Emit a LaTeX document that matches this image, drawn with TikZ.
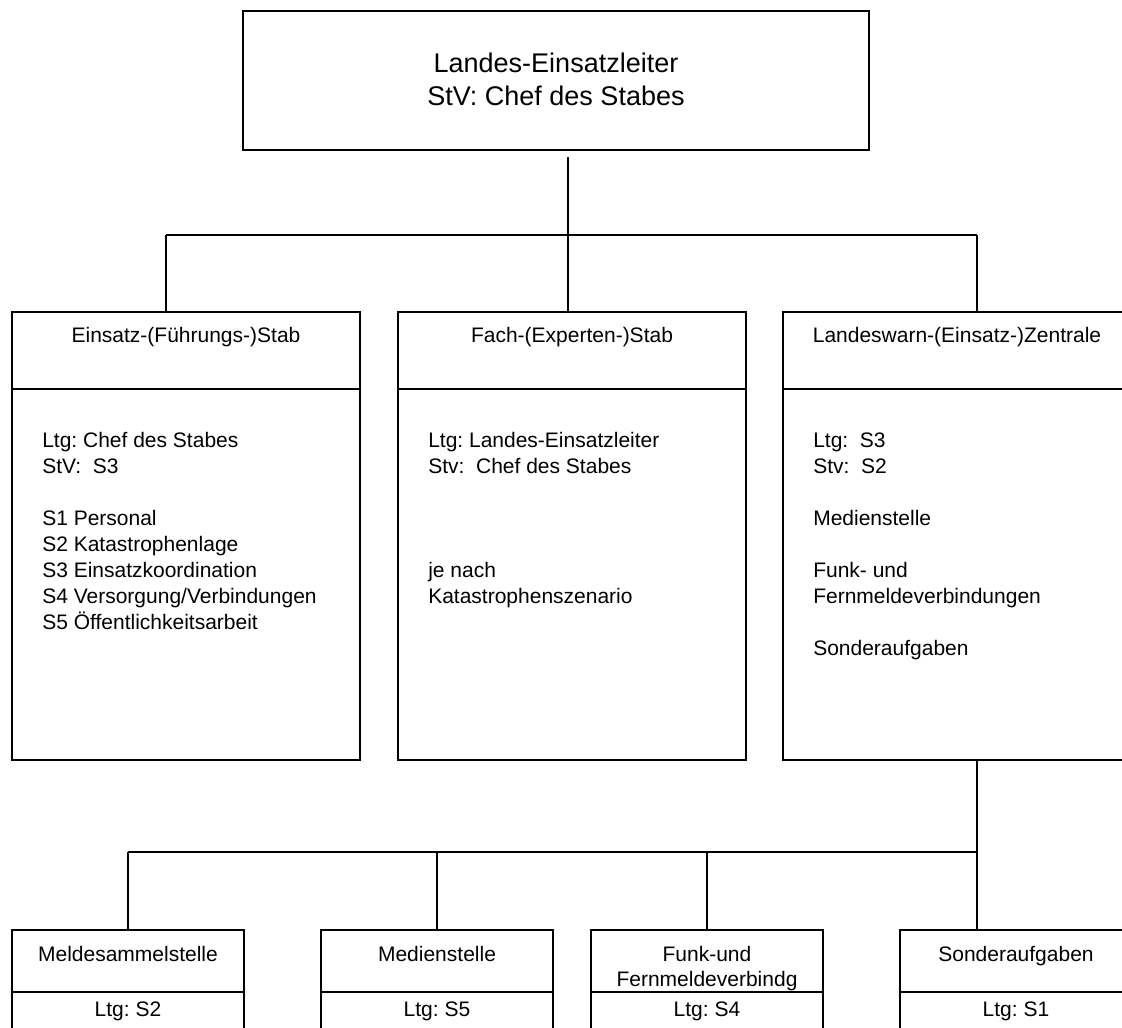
\documentclass[tikz,border=0pt]{standalone}
\usepackage{fontspec}
\setmainfont{Liberation Sans}
\begin{document}
\frenchspacing
\begin{tikzpicture}[x=0.75pt,y=-0.75pt,
  box/.style={draw,line width=1.2pt,inner sep=0pt,fill=none},
  ln/.style={line width=1.2pt},
  txt/.style={inner sep=0pt,anchor=base west,font=\fontsize{15.75pt}{19.5pt}\selectfont},
  ctxt/.style={inner sep=0pt,anchor=base,font=\fontsize{15.75pt}{19.5pt}\selectfont},
  bigtxt/.style={inner sep=0pt,anchor=base,font=\fontsize{20.25pt}{24.75pt}\selectfont}]
\clip (0,0) rectangle (1122,1028);
\fill[white] (0,0) rectangle (1122,1028);

% top box
\node[box,minimum width=469.5pt,minimum height=104.25pt] (top) at (556,80.5) {};
\node[bigtxt] (topa) at (556,72) {Landes-Einsatzleiter};
\node[bigtxt] (topb) at (556,105) {StV: Chef des Stabes};

% level 2 boxes
\node[box,minimum width=261pt,minimum height=336pt] (es) at (186,536) {};
\node[box,minimum width=261pt,minimum height=336pt] (fs) at (572,536) {};
\node[box,minimum width=261pt,minimum height=336pt] (lz) at (957,536) {};
\foreach \b in {es,fs,lz}{\draw[ln] (\b.west |- 0,389) -- (\b.east |- 0,389);}

\node[ctxt] (esh) at (186,342) {Einsatz-(Führungs-)Stab};
\node[ctxt] (fsh) at (572,342) {Fach-(Experten-)Stab};
\node[ctxt] (lzh) at (957,342) {Landeswarn-(Einsatz-)Zentrale};

\node[txt] (es1) at (42,447) {Ltg: Chef des Stabes};
\node[txt] (es2) at (42,473) {StV: \ S3};
\node[txt] (es3) at (42,525) {S1 Personal};
\node[txt] (es4) at (42,551) {S2 Katastrophenlage};
\node[txt] (es5) at (42,577) {S3 Einsatzkoordination};
\node[txt] (es6) at (42,603) {S4 Versorgung/Verbindungen};
\node[txt] (es7) at (42,629) {S5 Öffentlichkeitsarbeit};

\node[txt] (fs1) at (428,447) {Ltg: Landes-Einsatzleiter};
\node[txt] (fs2) at (428,473) {Stv: \ Chef des Stabes};
\node[txt] (fs3) at (428,577) {je nach};
\node[txt] (fs4) at (428,603) {Katastrophenszenario};

\node[txt] (lz1) at (813,447) {Ltg: \ S3};
\node[txt] (lz2) at (813,473) {Stv: \ S2};
\node[txt] (lz3) at (813,525) {Medienstelle};
\node[txt] (lz4) at (813,577) {Funk- und};
\node[txt] (lz5) at (813,603) {Fernmeldeverbindungen};
\node[txt] (lz6) at (813,655) {Sonderaufgaben};

% bottom boxes
\node[box,minimum width=174pt,minimum height=97.5pt] (ms) at (128,995) {};
\node[box,minimum width=174pt,minimum height=97.5pt] (md) at (437,995) {};
\node[box,minimum width=174pt,minimum height=97.5pt] (fk) at (707,995) {};
\node[box,minimum width=174pt,minimum height=97.5pt] (sa) at (1016,995) {};
\foreach \b in {ms,md,fk,sa}{\draw[ln] (\b.west |- 0,992) -- (\b.east |- 0,992);}

\node[ctxt] (msh) at (128,961) {Meldesammelstelle};
\node[ctxt] (mdh) at (437,961) {Medienstelle};
\node[ctxt] (fkh) at (707,961) {Funk-und};
\node[ctxt] (fkh2) at (707,986) {Fernmeldeverbindg};
\node[ctxt] (sah) at (1016,961) {Sonderaufgaben};
\node[ctxt] (msl) at (128,1016) {Ltg: S2};
\node[ctxt] (mdl) at (437,1016) {Ltg: S5};
\node[ctxt] (fkl) at (707,1016) {Ltg: S4};
\node[ctxt] (sal) at (1016,1016) {Ltg: S1};

% connectors level 1 -> 2
\coordinate (t0) at (568,157);
\coordinate (j1) at (568,235);
\coordinate (h1L) at (166,235);
\coordinate (h1R) at (977,235);
\draw[ln] (t0) -- (j1);
\draw[ln] (h1L) -- (h1R);
\draw[ln] (h1L) -- (h1L |- es.north);
\draw[ln] (j1) -- (j1 |- fs.north);
\draw[ln] (h1R) -- (h1R |- lz.north);

% connectors level 2 -> 3
\coordinate (h2R) at (977,852);
\draw[ln] (h2R |- lz.south) -- (h2R);
\draw[ln] (ms.north |- h2R) -- (h2R);
\draw[ln] (ms.north |- h2R) -- (ms.north);
\draw[ln] (md.north |- h2R) -- (md.north);
\draw[ln] (fk.north |- h2R) -- (fk.north);
\draw[ln] (h2R) -- (h2R |- sa.north);
\end{tikzpicture}
\end{document}
